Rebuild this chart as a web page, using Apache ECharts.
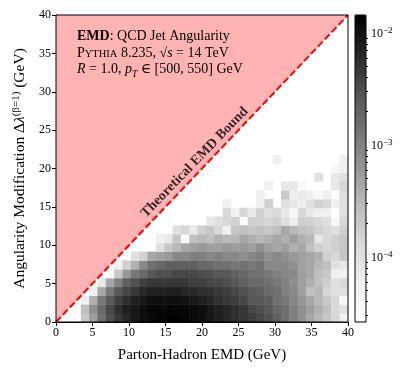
<!DOCTYPE html>
<html>
<head>
<meta charset="utf-8">
<script src="https://cdn.jsdelivr.net/npm/echarts@6/dist/echarts.min.js"></script>
<style>
  html, body { margin: 0; padding: 0; background: #fff; }
  #chart { width: 415px; height: 375px; }
</style>
</head>
<body>
<div id="chart"></div>
<script>
const _ = null;

// axis range and binning (35 x 35 bins over 0-40 GeV)
const axisRange = [0, 40];
const binCount = 35;
const tickStep = 5;

// log10(normalised density) per bin, one row per angularity bin from the bottom, one entry per EMD bin
const densityRows = [
  [_,_,_,-3.68,-3.29,-2.84,-2.51,-2.32,-2.20,-2.06,-1.98,-1.91,-1.89,-1.86,-1.86,-1.89,-1.91,-1.98,-2.06,-2.13,-2.20,-2.27,-2.32,-2.38,-2.44,-2.51,-2.67,-2.84,-2.99,-3.15,-3.36,-3.51,-3.68,-3.88,-4.24],
  [_,_,_,-3.59,-3.15,-2.76,-2.44,-2.27,-2.13,-2.06,-1.98,-1.91,-1.91,-1.89,-1.91,-1.91,-1.95,-1.98,-2.06,-2.13,-2.20,-2.27,-2.32,-2.44,-2.51,-2.59,-2.76,-2.84,-2.99,-3.15,-3.29,-3.44,-3.59,-3.88,-4.00],
  [_,_,_,-4.24,-3.44,-2.92,-2.59,-2.38,-2.27,-2.13,-2.06,-1.98,-1.98,-1.98,-1.98,-2.02,-2.06,-2.13,-2.20,-2.27,-2.32,-2.38,-2.44,-2.59,-2.59,-2.67,-2.84,-2.92,-3.07,-3.23,-3.36,-3.51,-3.68,-3.88,-4.42],
  [_,_,_,_,-4.24,-3.36,-2.92,-2.59,-2.44,-2.32,-2.20,-2.13,-2.13,-2.13,-2.13,-2.20,-2.20,-2.27,-2.27,-2.32,-2.38,-2.44,-2.51,-2.59,-2.67,-2.76,-2.84,-2.99,-3.07,-3.29,-3.59,-3.51,-3.88,-4.00,-4.00],
  [_,_,_,_,_,-4.12,-3.36,-2.99,-2.67,-2.51,-2.38,-2.32,-2.32,-2.32,-2.32,-2.32,-2.38,-2.38,-2.44,-2.44,-2.51,-2.59,-2.67,-2.76,-2.76,-2.84,-2.92,-2.99,-3.15,-3.29,-3.44,-3.59,-3.78,-4.00,-3.88],
  [_,_,_,_,_,_,-4.42,-3.68,-3.23,-2.92,-2.76,-2.59,-2.51,-2.51,-2.44,-2.44,-2.44,-2.51,-2.51,-2.59,-2.59,-2.67,-2.76,-2.84,-2.84,-2.92,-2.99,-3.07,-3.07,-3.29,-3.36,-3.59,-3.68,-4.24,-4.24],
  [_,_,_,_,_,_,_,-4.24,-3.78,-3.44,-3.07,-2.84,-2.76,-2.67,-2.67,-2.67,-2.67,-2.76,-2.76,-2.84,-2.84,-2.92,-2.84,-2.92,-2.84,-3.07,-3.07,-3.07,-3.15,-3.29,-3.36,-3.51,-3.59,-4.00,-4.12],
  [_,_,_,_,_,_,_,_,_,-4.00,-3.78,-3.36,-3.29,-3.23,-3.07,-3.07,-2.99,-2.99,-3.07,-2.99,-3.07,-3.07,-3.15,-3.07,-2.99,-3.15,-3.07,-3.15,-3.23,-3.29,-3.36,-3.44,-3.78,-3.88,-3.68],
  [_,_,_,_,_,_,_,_,_,_,_,_,-4.00,-3.68,-3.51,-3.36,-3.29,-3.23,-3.29,-3.29,-3.23,-3.29,-3.23,-3.29,-3.15,-3.29,-3.36,-3.29,-3.44,-3.36,-3.59,-3.78,-3.88,-3.78,-3.68],
  [_,_,_,_,_,_,_,_,_,_,_,_,-4.24,-4.12,-3.68,-4.50,-3.59,-3.51,-3.59,-3.44,-3.51,-3.51,-3.36,-3.44,-3.51,-3.44,-3.36,-3.44,-3.29,-3.44,-3.51,-4.12,-3.88,-3.78,-3.68],
  [_,_,_,_,_,_,_,_,_,_,_,_,_,_,-4.00,-3.88,-4.12,-3.78,-3.68,-3.88,-4.24,-3.68,-3.59,-3.68,-3.59,-3.68,-3.59,-3.36,-3.51,-3.59,-3.68,-3.78,-3.88,-4.00,-3.78],
  [_,_,_,_,_,_,_,_,_,_,_,_,_,_,_,_,_,_,-4.12,-4.00,-3.88,-3.78,_,-3.78,-3.78,-3.88,-3.78,-4.00,-4.24,-3.78,-3.78,-3.88,-4.00,-4.42,-3.88],
  [_,_,_,_,_,_,_,_,_,_,_,_,_,_,_,_,_,_,_,_,-3.88,-4.24,-3.88,-4.12,-3.78,-4.00,-3.88,-4.12,-4.42,-3.88,-4.12,-4.24,-4.24,_,-4.00],
  [_,_,_,_,_,_,_,_,_,_,_,_,_,_,_,_,_,_,_,_,-4.24,_,_,_,-4.24,-3.78,_,-4.00,-4.12,-4.24,-4.00,-3.78,-3.88,-4.24,-4.00],
  [_,_,_,_,_,_,_,_,_,_,_,_,_,_,_,_,_,_,_,_,_,_,_,_,-4.24,_,_,-3.68,-4.24,-4.12,-4.24,-4.42,-4.24,_,-4.00],
  [_,_,_,_,_,_,_,_,_,_,_,_,_,_,_,_,_,_,_,_,_,_,_,_,_,-4.24,_,-4.12,-4.12,-4.42,_,_,_,-4.12,-3.88],
  [_,_,_,_,_,_,_,_,_,_,_,_,_,_,_,_,_,_,_,_,_,_,_,_,_,_,_,_,_,_,_,-4.00,_,-4.12,-4.00],
  [_,_,_,_,_,_,_,_,_,_,_,_,_,_,_,_,_,_,_,_,_,_,_,_,_,_,_,_,_,_,_,_,_,-4.42,-4.24],
  [_,_,_,_,_,_,_,_,_,_,_,_,_,_,_,_,_,_,_,_,_,_,_,_,_,_,-4.24,_,_,_,_,_,_,_,-4.24]
];

// theoretical bound: angularity change can not exceed the EMD
const boundLine = [[0, 0], [40, 40]];
const boundLabelAt = [[19, 20.8]];

// colour scale (log10 density) and its labelled decades
const colorRange = [-4.58, -1.84];
const colorDecades = [-4, -3, -2];
const greys = ['#ffffff', '#f0f0f0', '#d9d9d9', '#bdbdbd', '#969696', '#737373', '#525252', '#252525', '#000000'];

const binLabels = Array.from({ length: binCount }, (v, i) => String(i));
const cells = [];
densityRows.forEach((row, j) => {
  row.forEach((v, i) => {
    if (v !== null) cells.push([i, j, v]);
  });
});

// minor ticks of the log colour bar at 2..9 x 10^n
const minorTicks = [];
for (let n = -5; n <= -2; n++) {
  for (let k = 2; k <= 9; k++) {
    const v = n + Math.log10(k);
    if (v > colorRange[0] && v < colorRange[1]) minorTicks.push(v);
  }
}

const serif = "'Liberation Serif', 'DejaVu Serif', serif";
const txt = { fontFamily: serif, fontSize: 14, color: '#000', verticalAlign: 'bottom', padding: [0, 0, 2, 0] };

const chart = echarts.init(document.getElementById('chart'));
chart.setOption({
  animation: false,
  backgroundColor: '#fff',
  grid: [
    { left: 56, top: 15, width: 292, height: 307, show: true, borderColor: '#000', borderWidth: 1, backgroundColor: 'transparent', z: 10 },
    { left: 355, top: 15, width: 11, height: 307, show: true, borderColor: '#000', borderWidth: 1, backgroundColor: 'transparent', z: 10 }
  ],
  xAxis: [
    {
      type: 'value', gridIndex: 0, min: axisRange[0], max: axisRange[1], interval: tickStep,
      name: 'Parton-Hadron EMD (GeV)', nameLocation: 'middle', nameGap: 26,
      nameTextStyle: { fontFamily: serif, fontSize: 15, color: '#000' },
      axisLine: { lineStyle: { color: '#000', width: 1 } },
      axisTick: { length: 4, lineStyle: { color: '#000' } },
      axisLabel: { fontFamily: serif, fontSize: 12, color: '#000', margin: 5 },
      splitLine: { show: false }
    },
    { type: 'category', gridIndex: 0, data: binLabels, show: false },
    { type: 'value', gridIndex: 1, show: false }
  ],
  yAxis: [
    {
      type: 'value', gridIndex: 0, min: axisRange[0], max: axisRange[1], interval: tickStep,
      name: 'Angularity Modification Δ{it|λ}{sup|(β=1)} (GeV)', nameLocation: 'middle', nameGap: 27,
      nameTextStyle: {
        fontFamily: serif, fontSize: 15.5, color: '#000', verticalAlign: 'bottom',
        rich: {
          it: { fontFamily: serif, fontSize: 15.5, fontStyle: 'italic', color: '#000', verticalAlign: 'bottom' },
          sup: { fontFamily: serif, fontSize: 11, color: '#000', verticalAlign: 'bottom', padding: [0, 0, 6, 0] }
        }
      },
      axisLine: { lineStyle: { color: '#000', width: 1 } },
      axisTick: { length: 4, lineStyle: { color: '#000' } },
      axisLabel: { fontFamily: serif, fontSize: 12, color: '#000', margin: 5 },
      splitLine: { show: false }
    },
    { type: 'category', gridIndex: 0, data: binLabels, show: false },
    {
      type: 'value', gridIndex: 1, min: colorRange[0], max: colorRange[1], position: 'right',
      axisLine: { show: false },
      axisTick: { show: true, length: 4, customValues: colorDecades, lineStyle: { color: '#000' } },
      axisLabel: {
        customValues: colorDecades, margin: 5,
        formatter: v => '{b|10}{s|−' + Math.abs(Math.round(v)) + '}',
        rich: {
          b: { fontFamily: serif, fontSize: 12, color: '#000', verticalAlign: 'bottom' },
          s: { fontFamily: serif, fontSize: 9, color: '#000', verticalAlign: 'bottom', padding: [0, 0, 5, 0] }
        }
      },
      splitLine: { show: false }
    },
    {
      type: 'value', gridIndex: 1, min: colorRange[0], max: colorRange[1], position: 'right',
      axisLine: { show: false },
      axisTick: { show: true, length: 2, customValues: minorTicks, lineStyle: { color: '#000' } },
      axisLabel: { show: false },
      splitLine: { show: false }
    }
  ],
  visualMap: {
    type: 'continuous', seriesIndex: 0, dimension: 2,
    min: colorRange[0], max: colorRange[1],
    calculable: false, realtime: false, padding: 0,
    left: 355, top: 15, itemWidth: 11, itemHeight: 307,
    inRange: { color: greys },
    textStyle: { color: 'transparent' },
    z: 1
  },
  graphic: [
    {
      type: 'text', left: 77, top: 29, z: 100,
      style: {
        text: '{b|EMD}{t|: QCD Jet Angularity}',
        rich: { b: Object.assign({}, txt, { fontWeight: 'bold' }), t: txt }
      }
    },
    {
      type: 'text', left: 77, top: 46, z: 100,
      style: {
        text: '{t|P}{sc|YTHIA}{t| 8.235, √}{i|s}{t| = 14 TeV}',
        rich: { t: txt, sc: Object.assign({}, txt, { fontSize: 10.5 }), i: Object.assign({}, txt, { fontStyle: 'italic' }) }
      }
    },
    {
      type: 'text', left: 77, top: 62, z: 100,
      style: {
        text: '{i|R}{t| = 1.0, }{i|p}{sub|T}{t| ∈ [500, 550] GeV}',
        rich: {
          t: Object.assign({}, txt, { padding: [0, 0, 4, 0] }),
          i: Object.assign({}, txt, { fontStyle: 'italic', padding: [0, 0, 4, 0] }),
          sub: Object.assign({}, txt, { fontStyle: 'italic', fontSize: 9.5, padding: [0, 0, 1, 0] })
        }
      }
    }
  ],
  series: [
    {
      type: 'heatmap', xAxisIndex: 1, yAxisIndex: 1,
      data: cells,
      itemStyle: { borderWidth: 0 },
      emphasis: { disabled: true },
      z: 2
    },
    {
      type: 'line', xAxisIndex: 0, yAxisIndex: 0,
      data: boundLine, showSymbol: false, symbol: 'none',
      lineStyle: { color: '#ff0000', width: 2, type: [7, 3] },
      areaStyle: { color: '#ffb3b3', opacity: 1, origin: 'end' },
      z: 3
    },
    {
      type: 'scatter', xAxisIndex: 0, yAxisIndex: 0,
      data: boundLabelAt, symbolSize: 0,
      label: {
        show: true, position: 'inside', rotate: 46,
        formatter: 'Theoretical EMD Bound',
        fontFamily: serif, fontWeight: 'bold', fontSize: 14, color: '#000'
      },
      z: 4
    }
  ]
});
</script>
</body>
</html>
